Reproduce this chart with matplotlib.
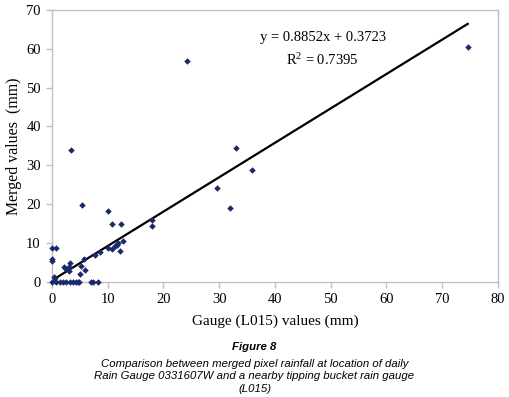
import matplotlib.pyplot as plt
import numpy as np

# gauge (L015) values vs merged pixel values, mm
gauge = [24.3, 3.35, 5.4, 10.05, 10.8, 12.4, 17.9, 17.9, 12.7, 10.1, 10.8,
         11.6, 11.9, 11.4, 12.3, 8.6, 7.7, 5.7, 5.3, 5.9, 5.0, 3.3, 3.0,
         2.15, 2.5, 3.0, 0.0, 0.7, 0.0, 0.0, 0.3, 0.5,
         0.1, 0.8, 1.4, 2.0, 2.6, 3.2, 3.8, 4.3, 4.6, 4.9, 7.1, 7.4, 8.3,
         29.6, 33.0, 31.9, 35.9, 74.6]
merged = [56.8, 34.0, 19.9, 18.2, 14.8, 14.9, 15.8, 14.3, 10.6, 8.8, 8.4,
          9.5, 10.0, 9.3, 7.9, 7.6, 6.9, 6.0, 4.2, 3.1, 1.9, 4.8, 3.9,
          3.7, 3.3, 2.9, 8.75, 8.75, 5.8, 5.4, 1.3, 0.9,
          0.0, 0.0, 0.0, 0.0, 0.0, 0.0, 0.0, 0.0, 0.0, 0.0, 0.0, 0.0, 0.0,
          24.2, 34.5, 19.0, 28.8, 60.5]

slope = 0.8852
intercept = 0.3723
r2 = 0.7395

xticks = [0, 10, 20, 30, 40, 50, 60, 70, 80]
yticks = [0, 10, 20, 30, 40, 50, 60, 70]

serif = ['Liberation Serif', 'DejaVu Serif']
sans = ['Liberation Sans', 'DejaVu Sans']

fig = plt.figure(figsize=(5.09, 3.97), dpi=100)
ax = fig.add_axes([0.102, 0.29, 0.876, 0.685])

ax.scatter(gauge, merged, marker='D', s=11, color='#1a2a6c', zorder=3,
           linewidths=0, clip_on=False)

xs = np.array([0, max(gauge)])
ax.plot(xs, slope * xs + intercept, color='black', lw=1.6, zorder=2)

ax.set_xlim(0, 80)
ax.set_ylim(0, 70)
ax.set_xticks(xticks)
ax.set_yticks(yticks)
for lab in ax.get_xticklabels() + ax.get_yticklabels():
    lab.set_family(serif)
    lab.set_fontsize(10.5)

for s in ax.spines.values():
    s.set_color('#c0c0c0')
    s.set_linewidth(1.0)
ax.tick_params(direction='out', length=4, color='#c0c0c0', width=1.0, pad=4)

ax.set_xlabel('Gauge (L015) values (mm)', family=serif, fontsize=11, labelpad=6)
ax.set_ylabel('Merged values  (mm)', family=serif, fontsize=11.4, labelpad=3)

ax.text(0.607, 0.9, 'y = 0.8852x + 0.3723', transform=ax.transAxes,
        ha='center', va='center', family=serif, fontsize=10.5)
ax.text(0.607, 0.815, '$\\mathregular{R^2}$ = 0.7395', transform=ax.transAxes,
        ha='center', va='center', family=serif, fontsize=10.5)

fig.text(0.5, 0.126, 'Figure 8', ha='center', va='center', family=sans,
         fontsize=8.2, weight='bold', style='italic')
cap = ('Comparison between merged pixel rainfall at location of daily\n'
       'Rain Gauge 0331607W and a nearby tipping bucket rain gauge\n'
       '(L015)')
fig.text(0.5, 0.052, cap, ha='center', va='center', family=sans,
         fontsize=8.2, style='italic', linespacing=1.35)

fig.savefig('out.png', dpi=100)
